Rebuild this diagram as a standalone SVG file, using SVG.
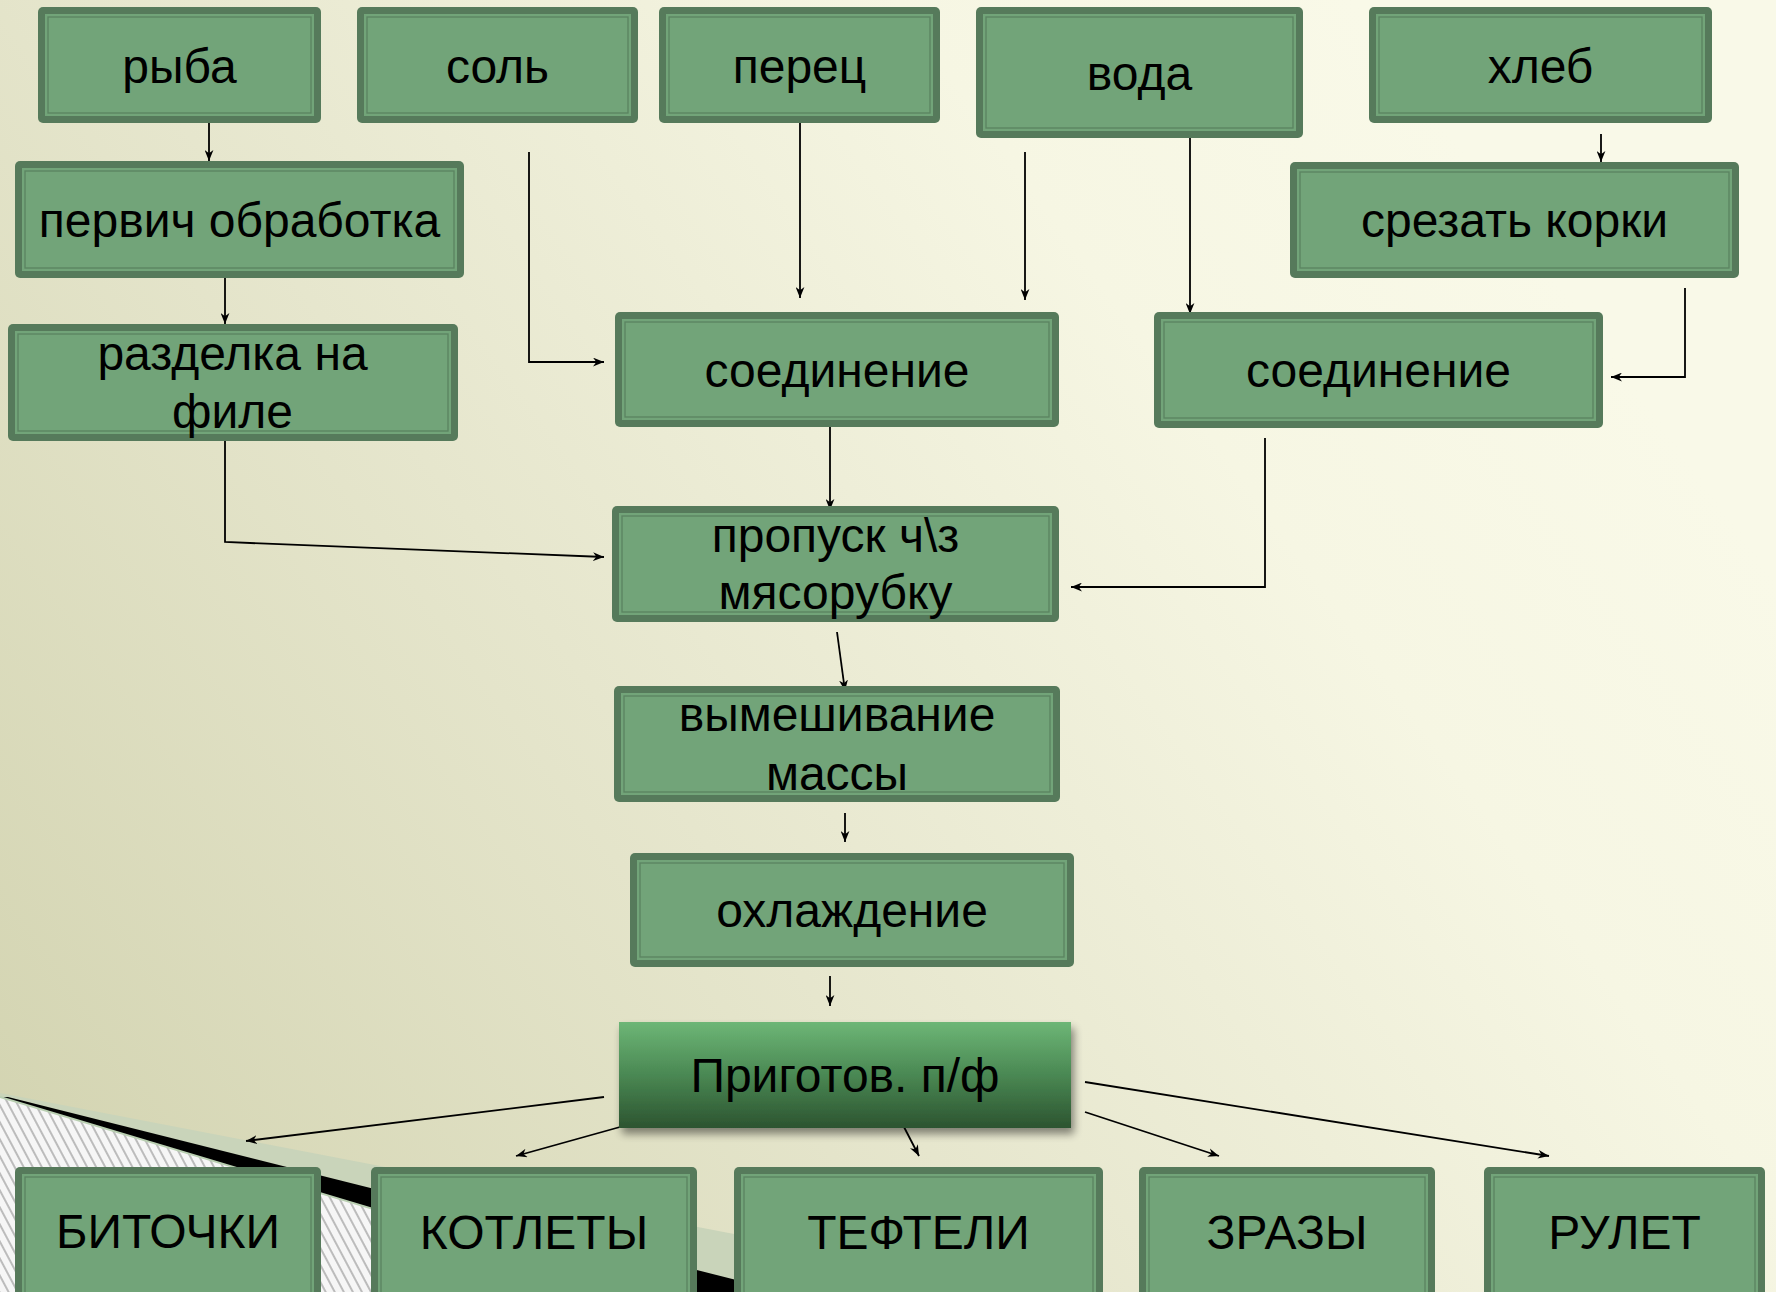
<svg xmlns="http://www.w3.org/2000/svg" width="1776" height="1292" viewBox="0 0 1776 1292">
<defs>
<linearGradient id="bg" gradientUnits="userSpaceOnUse" x1="0" y1="1292" x2="1500" y2="200">
<stop offset="0" stop-color="#d1d2ae"/>
<stop offset="0.45" stop-color="#e6e6cd"/>
<stop offset="0.8" stop-color="#f6f6e3"/>
<stop offset="1" stop-color="#f9f9e8"/>
</linearGradient>
<linearGradient id="prig" x1="0" y1="0" x2="0" y2="1">
<stop offset="0" stop-color="#6db676"/>
<stop offset="0.5" stop-color="#4a8853"/>
<stop offset="1" stop-color="#2c5430"/>
</linearGradient>
<pattern id="hatch" patternUnits="userSpaceOnUse" width="8" height="8" patternTransform="rotate(-28)">
<rect width="8" height="8" fill="#f6f6f6"/>
<line x1="1" y1="0" x2="1" y2="8" stroke="#8c8c8c" stroke-width="1.1"/>
</pattern>
<filter id="sh" x="-10%" y="-20%" width="125%" height="150%">
<feGaussianBlur in="SourceAlpha" stdDeviation="4"/>
<feOffset dx="3" dy="6" result="b"/>
<feComponentTransfer><feFuncA type="linear" slope="0.45"/></feComponentTransfer>
<feMerge><feMergeNode/><feMergeNode in="SourceGraphic"/></feMerge>
</filter>
<marker id="ah" viewBox="0 0 10 8" refX="10" refY="4" markerWidth="11" markerHeight="9" markerUnits="userSpaceOnUse" orient="auto">
<path d="M0,0 L10,4 L0,8 L3,4 Z" fill="#000"/>
</marker>
<style>
.o{fill:#567a5b}
.i{fill:#72a479}
.l{fill:none;stroke:#5a8360;stroke-width:1.3}
.t{font-family:"Liberation Sans",Arial,sans-serif;font-size:48px;fill:#000;text-anchor:middle}
.c{fill:none;stroke:#000;stroke-width:1.8;marker-end:url(#ah)}
</style>
</defs>
<rect width="1776" height="1292" fill="url(#bg)"/>
<!-- bottom-left decoration -->
<polygon points="0,1093 1000,1285 1000,1400 0,1400" fill="#c9d4ba"/>
<polygon points="8,1097 860,1311 860,1400 0,1400 0,1097" fill="#000"/>
<polygon points="0,1097 740,1319 0,1319" fill="url(#hatch)"/>
<line x1="0" y1="1097" x2="740" y2="1319" stroke="#b9cfb1" stroke-width="2"/>

<g id="connectors">
<path class="c" d="M209,118 L209,161"/>
<path class="c" d="M225,278 L225,324"/>
<path class="c" d="M529,152 L529,362 L604,362"/>
<path class="c" d="M800,120 L800,298"/>
<path class="c" d="M1025,152 L1025,300"/>
<path class="c" d="M1190,137 L1190,314"/>
<path class="c" d="M1601,134 L1601,162"/>
<path class="c" d="M1685,288 L1685,377 L1611,377"/>
<path class="c" d="M830,421 L830,510"/>
<path class="c" d="M225,440 L225,542 L604,557"/>
<path class="c" d="M1265,438 L1265,587 L1071,587"/>
<path class="c" d="M837,632 L845,691"/>
<path class="c" d="M845,813 L845,842"/>
<path class="c" d="M830,976 L830,1006"/>
<path class="c" d="M604,1097 L246,1141"/>
<path class="c" d="M620,1127 L516,1156"/>
<path class="c" d="M904,1127 L919,1156"/>
<path class="c" d="M1085,1112 L1219,1156"/>
<path class="c" d="M1085,1082 L1549,1156"/>
</g>

<g id="n-ryba"><rect class="o" x="38" y="7" width="283" height="116" rx="5"/><rect class="i" x="45" y="14" width="269" height="102"/><rect class="l" x="48" y="17" width="263" height="96"/><text class="t" x="179.5" y="83">рыба</text></g>
<g id="n-sol"><rect class="o" x="357" y="7" width="281" height="116" rx="5"/><rect class="i" x="364" y="14" width="267" height="102"/><rect class="l" x="367" y="17" width="261" height="96"/><text class="t" x="497.5" y="83">соль</text></g>
<g id="n-perec"><rect class="o" x="659" y="7" width="281" height="116" rx="5"/><rect class="i" x="666" y="14" width="267" height="102"/><rect class="l" x="669" y="17" width="261" height="96"/><text class="t" x="799.5" y="83">перец</text></g>
<g id="n-voda"><rect class="o" x="976" y="7" width="327" height="131" rx="5"/><rect class="i" x="983" y="14" width="313" height="117"/><rect class="l" x="986" y="17" width="307" height="111"/><text class="t" x="1139.5" y="90">вода</text></g>
<g id="n-hleb"><rect class="o" x="1369" y="7" width="343" height="116" rx="5"/><rect class="i" x="1376" y="14" width="329" height="102"/><rect class="l" x="1379" y="17" width="323" height="96"/><text class="t" x="1540.5" y="83">хлеб</text></g>

<g id="n-pervich"><rect class="o" x="15" y="161" width="449" height="117" rx="5"/><rect class="i" x="22" y="168" width="435" height="103"/><rect class="l" x="25" y="171" width="429" height="97"/><text class="t" x="239.5" y="237">первич обработка</text></g>
<g id="n-srezat"><rect class="o" x="1290" y="162" width="449" height="116" rx="5"/><rect class="i" x="1297" y="169" width="435" height="102"/><rect class="l" x="1300" y="172" width="429" height="96"/><text class="t" x="1514.5" y="237">срезать корки</text></g>

<g id="n-razdelka"><rect class="o" x="8" y="324" width="450" height="117" rx="5"/><rect class="i" x="15" y="331" width="436" height="103"/><rect class="l" x="18" y="334" width="430" height="97"/><text class="t" x="232.5" y="370">разделка на</text><text class="t" x="232.5" y="428">филе</text></g>
<g id="n-soed1"><rect class="o" x="615" y="312" width="444" height="115" rx="5"/><rect class="i" x="622" y="319" width="430" height="101"/><rect class="l" x="625" y="322" width="424" height="95"/><text class="t" x="837" y="387">соединение</text></g>
<g id="n-soed2"><rect class="o" x="1154" y="312" width="449" height="116" rx="5"/><rect class="i" x="1161" y="319" width="435" height="102"/><rect class="l" x="1164" y="322" width="429" height="96"/><text class="t" x="1378.5" y="387">соединение</text></g>

<g id="n-propusk"><rect class="o" x="612" y="506" width="447" height="116" rx="5"/><rect class="i" x="619" y="513" width="433" height="102"/><rect class="l" x="622" y="516" width="427" height="96"/><text class="t" x="835.5" y="552">пропуск ч\з</text><text class="t" x="835.5" y="609">мясорубку</text></g>
<g id="n-vymesh"><rect class="o" x="614" y="686" width="446" height="116" rx="5"/><rect class="i" x="621" y="693" width="432" height="102"/><rect class="l" x="624" y="696" width="426" height="96"/><text class="t" x="837" y="731">вымешивание</text><text class="t" x="837" y="790">массы</text></g>
<g id="n-ohlazh"><rect class="o" x="630" y="853" width="444" height="114" rx="5"/><rect class="i" x="637" y="860" width="430" height="100"/><rect class="l" x="640" y="863" width="424" height="94"/><text class="t" x="852" y="927">охлаждение</text></g>

<g id="n-prigotov"><rect x="619" y="1022" width="452" height="106" fill="url(#prig)" filter="url(#sh)"/><text class="t" x="845" y="1092">Приготов. п/ф</text></g>

<g id="n-bitochki"><rect class="o" x="15" y="1167" width="306" height="150" rx="5"/><rect class="i" x="22" y="1174" width="292" height="136"/><rect class="l" x="25" y="1177" width="286" height="130"/><text class="t" x="168" y="1248">БИТОЧКИ</text></g>
<g id="n-kotlety"><rect class="o" x="371" y="1167" width="326" height="150" rx="5"/><rect class="i" x="378" y="1174" width="312" height="136"/><rect class="l" x="381" y="1177" width="306" height="130"/><text class="t" x="534" y="1249">КОТЛЕТЫ</text></g>
<g id="n-tefteli"><rect class="o" x="734" y="1167" width="369" height="150" rx="5"/><rect class="i" x="741" y="1174" width="355" height="136"/><rect class="l" x="744" y="1177" width="349" height="130"/><text class="t" x="918.5" y="1249">ТЕФТЕЛИ</text></g>
<g id="n-zrazy"><rect class="o" x="1139" y="1167" width="296" height="150" rx="5"/><rect class="i" x="1146" y="1174" width="282" height="136"/><rect class="l" x="1149" y="1177" width="276" height="130"/><text class="t" x="1287" y="1249">ЗРАЗЫ</text></g>
<g id="n-rulet"><rect class="o" x="1484" y="1167" width="281" height="150" rx="5"/><rect class="i" x="1491" y="1174" width="267" height="136"/><rect class="l" x="1494" y="1177" width="261" height="130"/><text class="t" x="1624.5" y="1249">РУЛЕТ</text></g>
</svg>
